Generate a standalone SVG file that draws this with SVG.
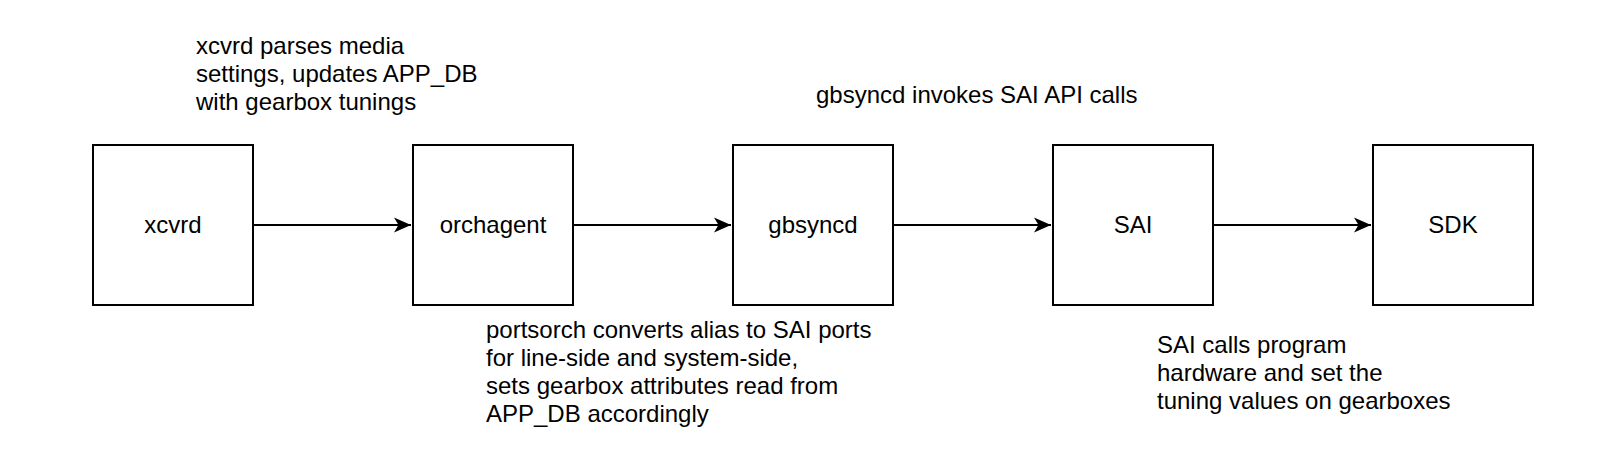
<svg xmlns="http://www.w3.org/2000/svg" width="1622" height="470" viewBox="0 0 1622 470">
  <style>
    .box { fill: #ffffff; stroke: #000000; stroke-width: 2; }
    .lbl { font-family: "Liberation Sans", Arial, sans-serif; font-size: 24px; fill: #000000; }
    .mid { text-anchor: middle; }
    .edge { stroke: #000000; stroke-width: 2; fill: none; }
  </style>
  <defs>
    <marker id="arrow" markerUnits="userSpaceOnUse" markerWidth="20" markerHeight="18" refX="17" refY="9" orient="auto">
      <path d="M0,1.5 L17,9 L0,16.5 L4.5,9 Z" fill="#000000"/>
    </marker>
  </defs>
  <rect width="1622" height="470" fill="#ffffff"/>
  <g id="connectors">
    <line class="edge" x1="253" y1="225" x2="411" y2="225" marker-end="url(#arrow)"/>
    <line class="edge" x1="573" y1="225" x2="731" y2="225" marker-end="url(#arrow)"/>
    <line class="edge" x1="893" y1="225" x2="1051" y2="225" marker-end="url(#arrow)"/>
    <line class="edge" x1="1213" y1="225" x2="1371" y2="225" marker-end="url(#arrow)"/>
  </g>
  <g id="node-xcvrd">
    <rect class="box" x="93" y="145" width="160" height="160"/>
    <text class="lbl mid" x="173" y="233">xcvrd</text>
  </g>
  <g id="node-orchagent">
    <rect class="box" x="413" y="145" width="160" height="160"/>
    <text class="lbl mid" x="493" y="233">orchagent</text>
  </g>
  <g id="node-gbsyncd">
    <rect class="box" x="733" y="145" width="160" height="160"/>
    <text class="lbl mid" x="813" y="233">gbsyncd</text>
  </g>
  <g id="node-sai">
    <rect class="box" x="1053" y="145" width="160" height="160"/>
    <text class="lbl mid" x="1133" y="233">SAI</text>
  </g>
  <g id="node-sdk">
    <rect class="box" x="1373" y="145" width="160" height="160"/>
    <text class="lbl mid" x="1453" y="233">SDK</text>
  </g>
  <g id="note-xcvrd">
    <text class="lbl" x="196" y="54">xcvrd parses media</text>
    <text class="lbl" x="196" y="82">settings, updates APP_DB</text>
    <text class="lbl" x="196" y="110">with gearbox tunings</text>
  </g>
  <g id="note-gbsyncd">
    <text class="lbl" x="816" y="103">gbsyncd invokes SAI API calls</text>
  </g>
  <g id="note-portsorch">
    <text class="lbl" x="486" y="338">portsorch converts alias to SAI ports</text>
    <text class="lbl" x="486" y="366">for line-side and system-side,</text>
    <text class="lbl" x="486" y="394">sets gearbox attributes read from</text>
    <text class="lbl" x="486" y="422">APP_DB accordingly</text>
  </g>
  <g id="note-sai">
    <text class="lbl" x="1157" y="353">SAI calls program</text>
    <text class="lbl" x="1157" y="381">hardware and set the</text>
    <text class="lbl" x="1157" y="409">tuning values on gearboxes</text>
  </g>
</svg>
